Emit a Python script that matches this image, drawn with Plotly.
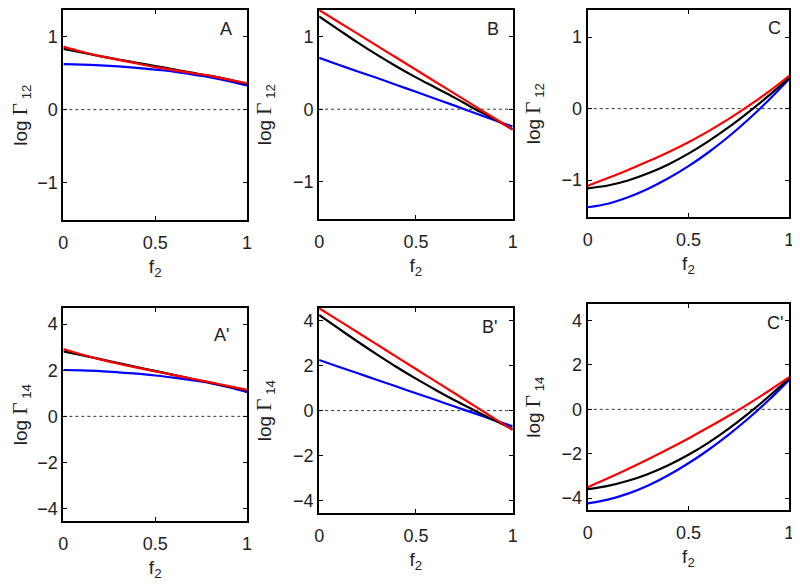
import plotly.graph_objects as go

f2 = [0, 0.1, 0.2, 0.3, 0.4, 0.5, 0.6, 0.7, 0.8, 0.9, 1.0]

# log Gamma_12 panels
A_black = [0.83, 0.78, 0.73, 0.685, 0.64, 0.595, 0.55, 0.505, 0.46, 0.41, 0.35]
A_red = [0.86, 0.79, 0.73, 0.68, 0.63, 0.58, 0.54, 0.50, 0.46, 0.41, 0.36]
A_blue = [0.62, 0.615, 0.605, 0.59, 0.57, 0.545, 0.52, 0.48, 0.44, 0.39, 0.33]

B_black = [1.28, 1.10, 0.92, 0.75, 0.59, 0.44, 0.30, 0.16, 0.01, -0.13, -0.28]
B_red = [1.37, 1.205, 1.04, 0.875, 0.71, 0.545, 0.38, 0.215, 0.05, -0.115, -0.28]
B_blue = [0.71, 0.615, 0.52, 0.43, 0.335, 0.24, 0.145, 0.05, -0.05, -0.145, -0.24]

C_black = [-1.115, -1.075, -1.005, -0.905, -0.78, -0.63, -0.455, -0.26, -0.045, 0.185, 0.43]
C_red = [-1.08, -0.97, -0.857, -0.737, -0.609, -0.469, -0.314, -0.144, 0.041, 0.241, 0.46]
C_blue = [-1.38, -1.33, -1.24, -1.12, -0.975, -0.805, -0.61, -0.39, -0.145, 0.125, 0.415]

# log Gamma_14 panels
Ap_black = [2.82, 2.65, 2.48, 2.31, 2.14, 1.97, 1.80, 1.63, 1.46, 1.29, 1.12]
Ap_red = [2.92, 2.68, 2.47, 2.28, 2.11, 1.95, 1.79, 1.63, 1.47, 1.31, 1.15]
Ap_blue = [2.01, 1.99, 1.96, 1.91, 1.85, 1.77, 1.68, 1.57, 1.44, 1.26, 1.05]

Bp_black = [4.25, 3.65, 3.06, 2.49, 1.94, 1.42, 0.93, 0.46, 0.02, -0.41, -0.82]
Bp_red = [4.55, 4.01, 3.47, 2.93, 2.39, 1.85, 1.31, 0.77, 0.22, -0.32, -0.86]
Bp_blue = [2.25, 1.95, 1.66, 1.36, 1.07, 0.77, 0.48, 0.18, -0.11, -0.41, -0.70]

Cp_black = [-3.60, -3.45, -3.22, -2.91, -2.52, -2.05, -1.50, -0.87, -0.17, 0.59, 1.40]
Cp_red = [-3.51, -3.11, -2.69, -2.25, -1.79, -1.31, -0.81, -0.29, 0.26, 0.84, 1.45]
Cp_blue = [-4.24, -4.07, -3.80, -3.43, -2.97, -2.43, -1.82, -1.14, -0.39, 0.43, 1.33]

panel_labels = ["A", "B", "C", "A'", "B'", "C'"]
x_ticks = [0, 0.5, 1]
x_tick_text = ["0", "0.5", "1"]
y_ticks_top = [-1, 0, 1]
y_ticks_bottom = [-4, -2, 0, 2, 4]

panels = [
    (A_black, A_red, A_blue),
    (B_black, B_red, B_blue),
    (C_black, C_red, C_blue),
    (Ap_black, Ap_red, Ap_blue),
    (Bp_black, Bp_red, Bp_blue),
    (Cp_black, Cp_red, Cp_blue),
]

W, H = 800, 586
OFF = 8  # page body margin offset
# pixel boxes on screen (left, right, top, bottom); top row clamped to the page top
boxes = [
    (59, 245, 8, 219), (318, 514, 8, 218), (590, 794, 8, 216),
    (59, 245, 307, 521), (318, 514, 307, 513), (590, 794, 303, 510),
]
y_ranges = [
    [-1.51, 1.36], [-1.52, 1.37], [-1.52, 1.38],
    [-4.55, 4.70], [-4.56, 4.56], [-4.55, 4.75],
]
label_shift = [(-13, -7), (-12, -7), (-6, -6), (-16, -15), (-14, -7), (-4, -7)]

FONT = "Liberation Sans, Arial, sans-serif"
GAMMA = '<span style="font-family:Liberation Serif, Times New Roman, serif;font-size:21px">Γ</span>'

fig = go.Figure()
for i, (blk, red, blu) in enumerate(panels):
    n = "" if i == 0 else str(i + 1)
    xa, ya = "x" + n, "y" + n
    fig.add_trace(go.Scatter(x=[0, 1], y=[0, 0], mode="lines",
                             line=dict(color="#333333", width=1, dash="dot"),
                             xaxis=xa, yaxis=ya, showlegend=False, hoverinfo="skip"))
    for ys, col in ((blu, "#0000ff"), (blk, "#000000"), (red, "#ff0000")):
        fig.add_trace(go.Scatter(x=f2, y=ys, mode="lines",
                                 line=dict(color=col, width=2.2, shape="spline"),
                                 xaxis=xa, yaxis=ya, showlegend=False))
    l, r, t, b = [v - OFF for v in boxes[i]]
    t = max(t, 0)
    sub = "12" if i < 3 else "14"
    common = dict(showline=True, linecolor="black", linewidth=2, mirror="ticks",
                  ticks="inside", ticklen=4, tickwidth=1, tickcolor="black",
                  showgrid=False, zeroline=False, ticklabeloverflow="allow",
                  tickfont=dict(family=FONT, size=18, color="#222222"))
    fig.layout["xaxis" + n] = dict(
        domain=[l / W, r / W], anchor=ya, range=[0, 1],
        tickvals=x_ticks, ticktext=x_tick_text, ticklabelstandoff=5,
        title=dict(text="f<sub>2</sub>", standoff=8,
                   font=dict(family=FONT, size=19, color="#222222")),
        **common)
    fig.layout["yaxis" + n] = dict(
        domain=[1 - b / H, 1 - t / H], anchor=xa, range=y_ranges[i],
        tickvals=y_ticks_top if i < 3 else y_ticks_bottom,
        title=dict(text="log " + GAMMA + "<sub> " + sub + "</sub>", standoff=16,
                   font=dict(family=FONT, size=19, color="#222222")),
        **common)
    fig.add_annotation(text=panel_labels[i], xref=xa + " domain", yref=ya + " domain",
                       x=1, y=1, xanchor="right", yanchor="top",
                       xshift=label_shift[i][0], yshift=label_shift[i][1],
                       showarrow=False, font=dict(family=FONT, size=18, color="#222222"))

fig.update_layout(width=W, height=H, margin=dict(l=0, r=0, t=0, b=0),
                  paper_bgcolor="white", plot_bgcolor="white")
fig.write_html("out.html")
